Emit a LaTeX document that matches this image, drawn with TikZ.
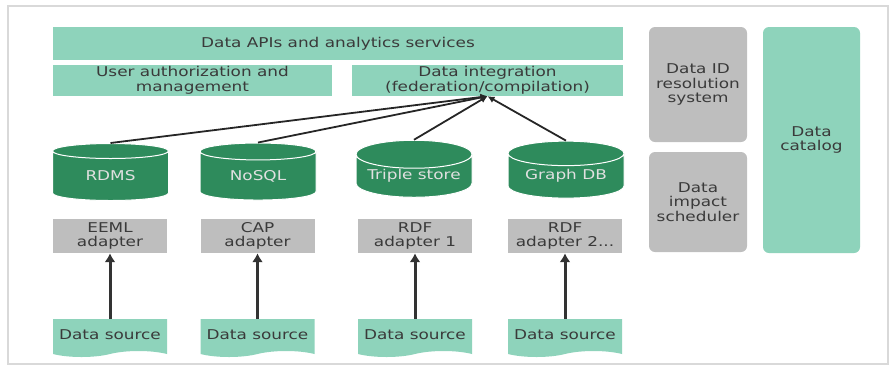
\documentclass[tikz,border=0pt]{standalone}
\usepackage{fontspec}
\setmainfont[FakeStretch=1.25]{DejaVu Sans}
\usetikzlibrary{shapes.geometric, shapes.symbols, arrows.meta}
\definecolor{lightteal}{HTML}{8ED3BB}
\definecolor{darkgreen}{HTML}{2E8B5C}
\definecolor{boxgray}{HTML}{BEBEBE}
\definecolor{textgray}{HTML}{3A3A3A}

\begin{document}
\begin{tikzpicture}[x=1pt, y=-1pt,
    every node/.style={font=\fontsize{13.5}{14.5}\selectfont, text=textgray, align=center, inner sep=0pt},
    bar/.style={rectangle, fill=lightteal, minimum height=32pt},
    sidebox/.style={rectangle, rounded corners=6pt, minimum width=98pt},
    db/.style={cylinder, shape border rotate=90, aspect=0.3, draw=white, line width=1pt,
        cylinder uses custom fill, cylinder body fill=darkgreen, cylinder end fill=darkgreen,
        minimum width=116pt, minimum height=57pt, text=white!88!black},
    adapter/.style={rectangle, fill=boxgray, minimum width=114pt, minimum height=34pt},
    source/.style={tape, tape bend top=none, tape bend height=6pt, fill=lightteal,
        minimum width=114pt, minimum height=38pt},
    feed/.style={-{Latex[length=9pt, width=11pt]}, line width=3pt, draw=black!80},
    link/.style={-{Latex[length=7pt, width=7pt]}, line width=1.8pt, draw=black!85}]
    \useasboundingbox (0,0) rectangle (889,368);
    \draw[gray!30, line width=1.5pt] (8,6) rectangle (888,364);

    % service layer
    \node[bar, minimum width=570pt, minimum height=33pt] (apis) at (338,43.5) {Data APIs and analytics services};
    \node[bar, minimum width=279pt, minimum height=31pt] (auth) at (192.5,80.5) {User authorization and\\management};
    \node[bar, minimum width=271pt, minimum height=31pt] (integ) at (487.5,80.5) {Data integration\\(federation/compilation)};

    % side systems
    \node[sidebox, fill=boxgray, minimum height=115pt] (idres) at (698,84.5) {Data ID\\resolution\\system};
    \node[sidebox, fill=boxgray, minimum height=100pt] (impact) at (698,202) {Data\\impact\\scheduler};
    \node[sidebox, fill=lightteal, minimum width=97pt, minimum height=226pt] (catalog) at (811.5,140) {Data\\catalog};

    % stores
    \node[db] (rdms) at (110.5,176) {RDMS};
    \node[db] (nosql) at (258,176) {NoSQL};
    \node[db] (triple) at (414,176) {Triple store};
    \node[db] (graph) at (566,176) {Graph DB};

    % adapters
    \node[adapter] (eeml) at (110,236) {EEML\\adapter};
    \node[adapter] (cap) at (257.5,236) {CAP\\adapter};
    \node[adapter] (rdfa) at (415,236) {RDF\\adapter 1};
    \node[adapter] (rdfb) at (565,236) {RDF\\adapter 2...};

    % sources
    \node[source] (srca) at (110,335) {Data source};
    \node[source] (srcb) at (257.5,335) {Data source};
    \node[source] (srcc) at (415,335) {Data source};
    \node[source] (srcd) at (565,335) {Data source};

    \foreach \s in {rdms, nosql, triple, graph}
        \draw[link] (\s.north) -- (integ.south);
    \draw[feed] (srca.north) -- (eeml.south);
    \draw[feed] (srcb.north) -- (cap.south);
    \draw[feed] (srcc.north) -- (rdfa.south);
    \draw[feed] (srcd.north) -- (rdfb.south);
\end{tikzpicture}
\end{document}
